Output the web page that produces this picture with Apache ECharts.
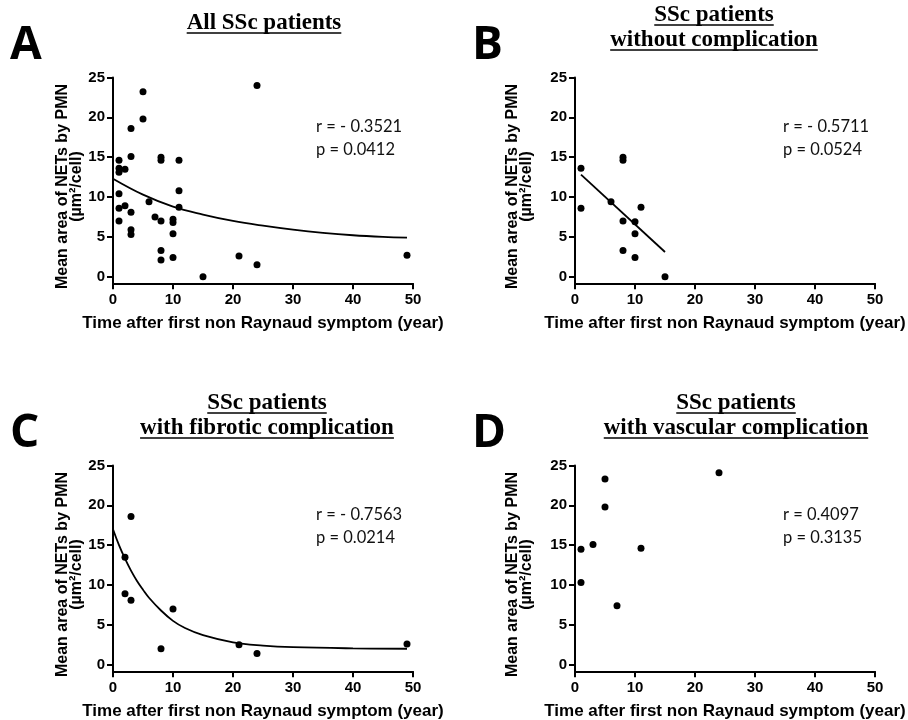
<!DOCTYPE html>
<html style="height: 100%">
<head>
<meta charset="utf-8">
<script src="https://cdn.jsdelivr.net/npm/echarts@6/dist/echarts.min.js"></script>
</head>
<body style="height: 100%; margin: 0; background: #fff">
<div id="container" style="width: 908px; height: 720px"></div>
<script type="text/javascript">

// tick labels
var xTicks = [0, 10, 20, 30, 40, 50];
var yTicks = [0, 5, 10, 15, 20, 25];

// A - all SSc patients
var aX = [1, 1, 1, 2, 1, 1, 2, 1, 3, 3, 3, 3, 3, 5, 5, 6, 7, 8, 8, 8, 8, 8, 10, 10, 10, 10, 11, 11, 11, 15, 21, 24, 24, 49];
var aY = [14.6, 13.6, 13.1, 13.5, 10.4, 8.6, 8.9, 7.0, 18.6, 15.1, 8.1, 5.9, 5.3, 23.2, 19.8, 9.4, 7.5, 15.0, 14.6, 7.0, 3.3, 2.1, 7.2, 6.8, 5.4, 2.4, 14.6, 10.8, 8.7, 0, 2.6, 24.0, 1.5, 2.7];
var aFitX = [0, 5, 10, 15, 20, 25, 30, 35, 40, 45, 49];
var aFitY = [12.3, 10.3, 8.8, 7.8, 7.0, 6.4, 5.9, 5.5, 5.2, 5.0, 4.9];

// B - without complication
var bX = [1, 1, 6, 8, 8, 8, 8, 10, 10, 10, 11, 15];
var bY = [13.6, 8.6, 9.4, 15.0, 14.6, 7.0, 3.3, 6.9, 5.4, 2.4, 8.7, 0];
var bFitX = [1, 15];
var bFitY = [12.8, 3.1];

// C - fibrotic complication
var cX = [3, 2, 2, 3, 8, 10, 21, 24, 49];
var cY = [18.6, 13.5, 8.9, 8.1, 2.0, 7.0, 2.5, 1.4, 2.6];
var cFitX = [0, 1, 2, 3, 4, 5, 6, 8, 10, 12, 15, 20, 25, 30, 40, 49];
var cFitY = [17.0, 15.0, 13.3, 11.8, 10.5, 9.4, 8.4, 6.8, 5.5, 4.6, 3.7, 2.8, 2.4, 2.2, 2.05, 2.0];

// D - vascular complication
var dX = [1, 1, 3, 5, 5, 7, 11, 24];
var dY = [14.5, 10.3, 15.1, 23.3, 19.8, 7.4, 14.6, 24.1];

var panels = [
  {letter: 'A', title: ['All SSc patients'], stats: ['r = - 0.3521', 'p = 0.0412'], x: aX, y: aY, fx: aFitX, fy: aFitY},
  {letter: 'B', title: ['SSc patients', 'without complication'], stats: ['r = - 0.5711', 'p = 0.0524'], x: bX, y: bY, fx: bFitX, fy: bFitY},
  {letter: 'C', title: ['SSc patients', 'with fibrotic complication'], stats: ['r = - 0.7563', 'p = 0.0214'], x: cX, y: cY, fx: cFitX, fy: cFitY},
  {letter: 'D', title: ['SSc patients', 'with vascular complication'], stats: ['r = 0.4097', 'p = 0.3135'], x: dX, y: dY, fx: null, fy: null}
];

// layout of the 2x2 figure
var lefts = [113, 575, 113, 575];
var tops = [77.5, 77.5, 465.5, 465.5];
var titleCx = [264, 714, 267, 736];
var yTitleX = [62.5, 512.5, 62.5, 512.5];
var sansFont = '"Liberation Sans", Arial, sans-serif';
var serifFont = '"Liberation Serif", "Times New Roman", serif';

function zip(xs, ys) {
  return xs.map(function (v, i) { return [v, ys[i]]; });
}

var ctx = document.createElement('canvas').getContext('2d');
function textWidth(str, font) {
  ctx.font = font;
  return ctx.measureText(str).width;
}

var grids = [], xAxes = [], yAxes = [], series = [], graphics = [];

panels.forEach(function (p, i) {
  var top = tops[i];
  var dy = top - 77.5;
  grids.push({left: lefts[i], top: top, width: 300, height: 205.8, containLabel: false});
  xAxes.push({
    type: 'value', gridIndex: i, min: 0, max: 50, interval: 10,
    axisLine: {show: true, onZero: false, lineStyle: {color: '#000', width: 2}},
    axisTick: {show: true, length: 6, lineStyle: {color: '#000', width: 2}},
    axisLabel: {color: '#000', fontSize: 15, fontWeight: 'bold', fontFamily: sansFont, margin: 9},
    splitLine: {show: false}
  });
  yAxes.push({
    type: 'value', gridIndex: i, min: -0.83, max: 25,
    axisLine: {show: true, onZero: false, lineStyle: {color: '#000', width: 2}},
    axisTick: {show: true, length: 6, customValues: yTicks, lineStyle: {color: '#000', width: 2}},
    axisLabel: {color: '#000', fontSize: 15, fontWeight: 'bold', fontFamily: sansFont, margin: 8, customValues: yTicks},
    splitLine: {show: false}
  });
  series.push({
    type: 'scatter', xAxisIndex: i, yAxisIndex: i, symbol: 'circle', symbolSize: 7,
    itemStyle: {color: '#000', opacity: 1}, data: zip(p.x, p.y)
  });
  if (p.fx) {
    series.push({
      type: 'line', xAxisIndex: i, yAxisIndex: i, showSymbol: false, smooth: p.fx.length > 2 ? 0.4 : false,
      lineStyle: {color: '#000', width: 1.8}, data: zip(p.fx, p.fy)
    });
  }

  // panel letter
  graphics.push({type: 'text', x: lefts[i] - 103, y: top - 32,
    style: {text: p.letter, font: 'bold 46px "Open Sans", sans-serif', fill: '#000', verticalAlign: 'middle'}});

  // underlined serif title
  var tFont = 'bold 23px ' + serifFont;
  var ys = p.title.length === 1 ? [23] : [15, 40];
  p.title.forEach(function (t, k) {
    var ty = ys[k] + dy;
    graphics.push({type: 'text', x: titleCx[i], y: ty,
      style: {text: t, font: tFont, fill: '#000', align: 'center', verticalAlign: 'middle'}});
    var w = textWidth(t, tFont);
    graphics.push({type: 'line', shape: {x1: titleCx[i] - w / 2, y1: ty + 10, x2: titleCx[i] + w / 2, y2: ty + 10},
      style: {stroke: '#000', lineWidth: 1.5}});
  });

  // r and p
  var sx = i % 2 === 0 ? 316 : 783;
  p.stats.forEach(function (s, k) {
    graphics.push({type: 'text', x: sx, y: 127 + dy + k * 22.5,
      style: {text: s, font: '16.5px Lato, "Open Sans", sans-serif', fill: '#111', verticalAlign: 'middle'}});
  });

  // axis titles
  graphics.push({type: 'text', x: yTitleX[i], y: 186.5 + dy, rotation: Math.PI / 2,
    style: {text: 'Mean area of NETs by PMN', font: 'bold 16px ' + sansFont, fill: '#000', align: 'center', verticalAlign: 'middle'}});
  graphics.push({type: 'text', x: yTitleX[i] + 14.5, y: 186.5 + dy, rotation: Math.PI / 2,
    style: {text: '(\u00b5m\u00b2/cell)', font: 'bold 16px ' + sansFont, fill: '#000', align: 'center', verticalAlign: 'middle'}});
  graphics.push({type: 'text', x: lefts[i] + 150, y: 323 + dy,
    style: {text: 'Time after first non Raynaud symptom (year)', font: 'bold 17px ' + sansFont, fill: '#000', align: 'center', verticalAlign: 'middle'}});
});

var myChart = echarts.init(document.getElementById('container'), null, {renderer: 'canvas'});
var option = {
  backgroundColor: '#fff',
  animation: false,
  grid: grids,
  xAxis: xAxes,
  yAxis: yAxes,
  series: series,
  graphic: graphics
};
myChart.setOption(option);

</script>
</body>
</html>
